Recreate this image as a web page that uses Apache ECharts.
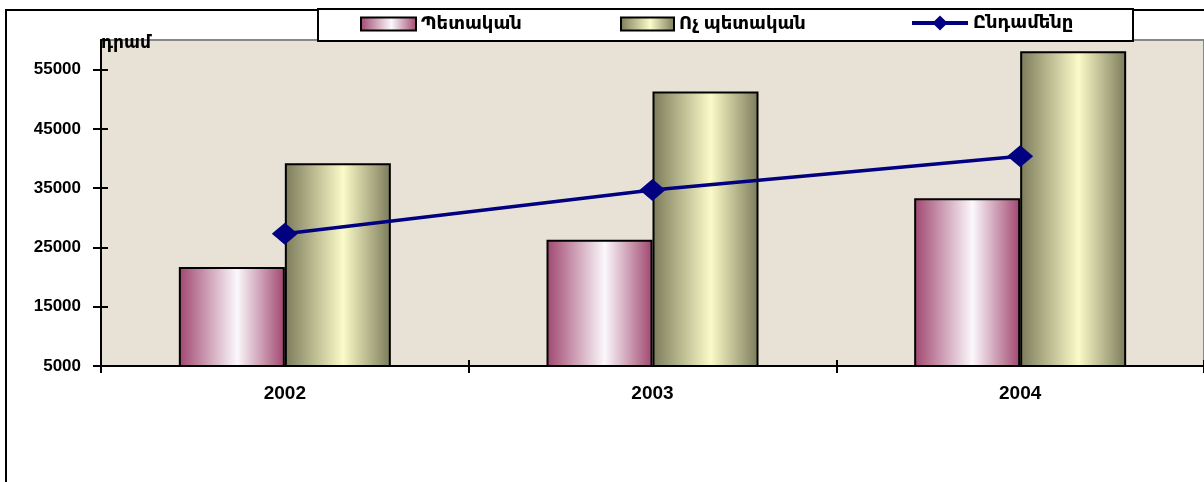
<!DOCTYPE html>
<html>
<head>
<meta charset="utf-8">
<script src="https://cdn.jsdelivr.net/npm/echarts@6/dist/echarts.min.js"></script>
<style>
  html, body { margin: 0; padding: 0; background: #fff; }
  #main { width: 1204px; height: 482px; }
</style>
</head>
<body>
<div id="main"></div>
<script>
// տվյալներ
var years = ['2002', '2003', '2004'];
var petakan = [21700, 26300, 33300];
var voch_petakan = [39200, 51300, 58100];
var yndamene = [27300, 34700, 40400];
var yTicks = [5000, 15000, 25000, 35000, 45000, 55000];
var seriesNames = ['Պետական', 'Ոչ պետական', 'Ընդամենը'];

var font = "'Liberation Sans', 'DejaVu Sans', sans-serif";

var myChart = echarts.init(document.getElementById('main'));

function barGrad(edge, mid) {
    return new echarts.graphic.LinearGradient(0, 0, 1, 0, [
        { offset: 0, color: edge },
        { offset: 0.55, color: mid },
        { offset: 1, color: edge }
    ]);
}

var legendText = { fontFamily: font, fontSize: 18, fontWeight: 'bold', color: '#000' };
var tickStyle = { color: '#000', width: 2 };

var option = {
    backgroundColor: '#fff',
    animation: false,
    graphic: [
        {
            type: 'rect', z: -10, silent: true,
            shape: { x: 6, y: 10, width: 1220, height: 490 },
            style: { fill: 'none', stroke: '#000', lineWidth: 2 }
        },
        {
            type: 'rect', z: 5, silent: true,
            shape: { x: 318, y: 9, width: 815, height: 32 },
            style: { fill: '#fff', stroke: '#000', lineWidth: 2 }
        }
    ],
    legend: [
        { data: [{ name: seriesNames[0], icon: 'rect' }], left: 360, top: 15, padding: 0, itemWidth: 55, itemHeight: 13, textStyle: legendText, z: 10 },
        { data: [{ name: seriesNames[1], icon: 'rect' }], left: 620, top: 15, padding: 0, itemWidth: 53, itemHeight: 13, textStyle: legendText, z: 10 },
        {
            data: [seriesNames[2]], left: 910, top: 14, padding: 0, itemWidth: 56, itemHeight: 19,
            lineStyle: { width: 4 },
            textStyle: legendText, z: 10
        }
    ],
    grid: {
        left: 101, top: 40, right: -4, bottom: 116,
        show: true,
        backgroundColor: '#e8e1d5',
        borderColor: '#888',
        borderWidth: 2
    },
    xAxis: [
        {
            type: 'category',
            data: years,
            axisLine: { lineStyle: { color: '#000', width: 2 } },
            axisTick: { show: true, length: 7, lineStyle: tickStyle },
            axisLabel: { margin: 18, fontFamily: font, fontSize: 19, fontWeight: 'bold', color: '#000' }
        },
        {
            type: 'category',
            data: years,
            position: 'bottom',
            axisLine: { show: false },
            axisTick: { show: true, inside: true, length: 6, lineStyle: tickStyle },
            axisLabel: { show: false }
        }
    ],
    yAxis: [
        {
            type: 'value',
            min: 5000,
            max: 60000,
            name: 'դրամ',
            nameLocation: 'end',
            nameGap: -3,
            nameTextStyle: { align: 'left', verticalAlign: 'middle', fontFamily: font, fontSize: 17, fontWeight: 'bold', color: '#000' },
            splitLine: { show: false },
            axisLine: { show: true, lineStyle: { color: '#000', width: 2 } },
            axisTick: { show: true, length: 8, customValues: yTicks, lineStyle: tickStyle },
            axisLabel: {
                margin: 20, customValues: yTicks,
                formatter: function (v) { return String(v); },
                fontFamily: font, fontSize: 17, fontWeight: 'bold', color: '#000'
            }
        },
        {
            // only for the inner half of the crossing ticks (same scale, shifted by 5000)
            type: 'value',
            min: 0,
            max: 55000,
            interval: 10000,
            position: 'left',
            splitLine: { show: false },
            axisLine: { show: false },
            axisTick: { show: true, inside: true, length: 7, lineStyle: tickStyle },
            axisLabel: { show: false }
        }
    ],
    series: [
        {
            name: seriesNames[0],
            type: 'bar',
            data: petakan,
            barWidth: 106,
            barGap: '0%',
            itemStyle: { color: barGrad('#a0466f', '#fbf8fb'), borderColor: '#000', borderWidth: 2 }
        },
        {
            name: seriesNames[1],
            type: 'bar',
            data: voch_petakan,
            barWidth: 106,
            barGap: '0%',
            itemStyle: { color: barGrad('#7b7b5a', '#fbfac8'), borderColor: '#000', borderWidth: 2 }
        },
        {
            name: seriesNames[2],
            type: 'line',
            data: yndamene,
            symbol: 'diamond',
            symbolSize: [26, 22],
            lineStyle: { color: '#000080', width: 3.5 },
            itemStyle: { color: '#000080' },
            z: 5
        }
    ]
};

myChart.setOption(option);
</script>
</body>
</html>
